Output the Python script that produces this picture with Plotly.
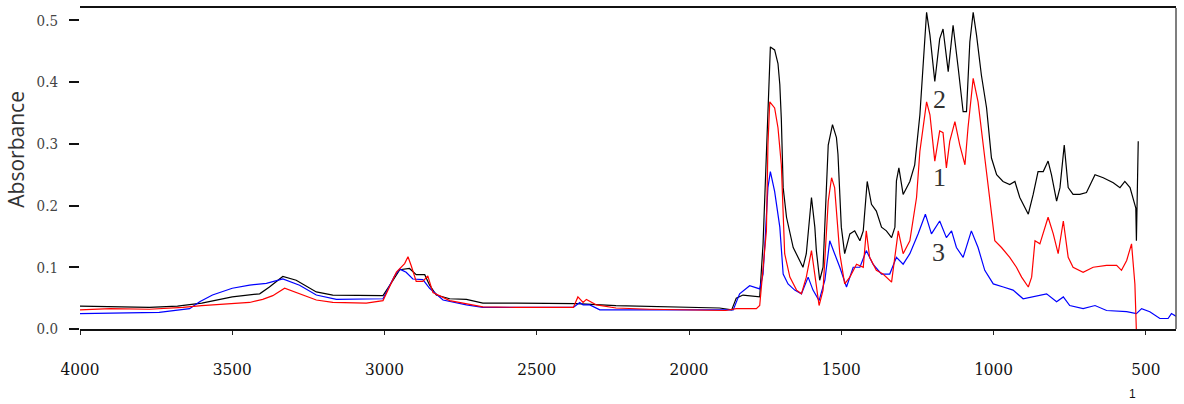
import plotly.graph_objects as go

# ---- data (wavenumber cm-1, absorbance) ----
black_wn = [4000, 3900, 3772, 3680, 3600, 3500, 3410, 3378, 3334, 3290, 3224, 3170, 3115, 3005,
            2972, 2950, 2918, 2896, 2868, 2852, 2830, 2786, 2731, 2677, 2567, 2458, 2370, 2240,
            2130, 2000, 1900, 1860, 1845, 1823, 1768, 1757, 1746, 1733, 1719, 1708, 1702, 1697,
            1691, 1680, 1658, 1626, 1615, 1598, 1587, 1582, 1571, 1560, 1543, 1529, 1516, 1511,
            1500, 1489, 1472, 1456, 1439, 1428, 1415, 1401, 1385, 1368, 1352, 1335, 1324, 1319,
            1311, 1297, 1275, 1259, 1242, 1231, 1220, 1209, 1193, 1177, 1166, 1149, 1133, 1116,
            1100, 1089, 1078, 1067, 1056, 1040, 1023, 1007, 990, 969, 947, 930, 914, 886, 870,
            854, 837, 821, 810, 793, 782, 768, 755, 739, 717, 695, 667, 640, 607, 585, 569, 552,
            541, 533, 531, 525]
black_abs = [0.037, 0.036, 0.035, 0.037, 0.042, 0.052, 0.057, 0.068, 0.085, 0.079, 0.060, 0.055, 0.055, 0.054,
             0.079, 0.096, 0.098, 0.088, 0.088, 0.071, 0.055, 0.049, 0.048, 0.042, 0.042, 0.041, 0.041, 0.038,
             0.037, 0.036, 0.034, 0.031, 0.050, 0.055, 0.052, 0.138, 0.300, 0.457, 0.452, 0.430, 0.396, 0.340,
             0.229, 0.181, 0.132, 0.100, 0.122, 0.213, 0.165, 0.127, 0.079, 0.100, 0.298, 0.331, 0.310, 0.283,
             0.165, 0.122, 0.154, 0.159, 0.143, 0.159, 0.239, 0.202, 0.191, 0.165, 0.159, 0.148, 0.165, 0.240,
             0.261, 0.218, 0.239, 0.266, 0.347, 0.438, 0.513, 0.476, 0.401, 0.470, 0.486, 0.417, 0.492, 0.422,
             0.352, 0.352, 0.465, 0.513, 0.476, 0.411, 0.358, 0.277, 0.250, 0.239, 0.234, 0.239, 0.213, 0.186, 0.218,
             0.255, 0.255, 0.272, 0.250, 0.207, 0.229, 0.298, 0.229, 0.218, 0.218, 0.221, 0.250, 0.245, 0.237, 0.229, 0.239, 0.229,
             0.207, 0.196, 0.143, 0.304]

red_wn = [4000, 3900, 3772, 3662, 3600, 3443, 3400, 3367, 3328, 3290, 3224, 3170, 3060, 3005,
          2961, 2934, 2923, 2912, 2896, 2874, 2858, 2841, 2786, 2677, 2567, 2380, 2365, 2348,
          2337, 2304, 2240, 2130, 2000, 1880, 1845, 1779, 1768, 1757, 1746, 1741, 1735, 1719,
          1708, 1697, 1686, 1669, 1647, 1631, 1615, 1598, 1587, 1573, 1560, 1543, 1532, 1522,
          1505, 1489, 1472, 1450, 1428, 1418, 1407, 1385, 1363, 1335, 1313, 1297, 1275, 1253,
          1242, 1231, 1220, 1209, 1193, 1177, 1166, 1155, 1144, 1127, 1111, 1094, 1084, 1067,
          1051, 1034, 1018, 1007, 996, 974, 947, 925, 908, 886, 875, 864, 848, 821, 804, 788,
          771, 755, 739, 706, 673, 629, 596, 580, 563, 547, 536, 531]
red_abs = [0.031, 0.033, 0.032, 0.035, 0.038, 0.043, 0.048, 0.054, 0.066, 0.059, 0.047, 0.043, 0.042, 0.046,
           0.092, 0.106, 0.117, 0.102, 0.077, 0.077, 0.086, 0.059, 0.046, 0.036, 0.035, 0.035, 0.052, 0.043,
           0.048, 0.039, 0.034, 0.032, 0.031, 0.030, 0.033, 0.033, 0.038, 0.100, 0.159, 0.298, 0.368, 0.358,
           0.326, 0.266, 0.122, 0.084, 0.063, 0.057, 0.084, 0.127, 0.084, 0.038, 0.063, 0.207, 0.245, 0.229,
           0.122, 0.073, 0.084, 0.105, 0.100, 0.159, 0.116, 0.095, 0.089, 0.076, 0.159, 0.122, 0.143, 0.213,
           0.288, 0.331, 0.368, 0.347, 0.272, 0.321, 0.318, 0.261, 0.304, 0.336, 0.298, 0.266, 0.326, 0.406,
           0.368, 0.298, 0.234, 0.196, 0.143, 0.132, 0.116, 0.100, 0.084, 0.068, 0.084, 0.143, 0.138, 0.181, 0.154, 0.122,
           0.175, 0.116, 0.100, 0.092, 0.100, 0.103, 0.103, 0.095, 0.111, 0.138, 0.073, -0.005]

blue_wn = [4000, 3850, 3740, 3640, 3607, 3565, 3500, 3443, 3388, 3334, 3279, 3224, 3158, 3005,
           2967, 2950, 2929, 2907, 2874, 2852, 2808, 2731, 2677, 2380, 2359, 2348, 2326, 2293,
           2130, 2000, 1880, 1855, 1834, 1801, 1768, 1757, 1751, 1741, 1733, 1719, 1702, 1691,
           1675, 1653, 1631, 1609, 1593, 1573, 1554, 1538, 1522, 1505, 1483, 1461, 1439, 1418,
           1396, 1368, 1341, 1319, 1297, 1275, 1248, 1224, 1204, 1177, 1155, 1138, 1122, 1100,
           1073, 1051, 1029, 1001, 968, 936, 903, 870, 826, 793, 771, 750, 706, 667, 629, 563,
           531, 514, 487, 454, 427, 416, 399]
blue_abs = [0.025, 0.026, 0.027, 0.033, 0.044, 0.055, 0.066, 0.071, 0.074, 0.081, 0.071, 0.055, 0.048, 0.049,
            0.086, 0.097, 0.092, 0.081, 0.080, 0.066, 0.047, 0.039, 0.035, 0.035, 0.043, 0.039, 0.039, 0.031,
            0.031, 0.030, 0.030, 0.031, 0.057, 0.070, 0.065, 0.089, 0.138, 0.229, 0.255, 0.223, 0.165, 0.089,
            0.073, 0.063, 0.057, 0.084, 0.063, 0.046, 0.079, 0.143, 0.122, 0.100, 0.068, 0.100, 0.100, 0.127,
            0.105, 0.089, 0.089, 0.116, 0.105, 0.122, 0.154, 0.186, 0.154, 0.175, 0.148, 0.159, 0.132, 0.116,
            0.159, 0.132, 0.095, 0.073, 0.068, 0.063, 0.049, 0.052, 0.057, 0.044, 0.052, 0.038, 0.033, 0.038, 0.030, 0.028,
            0.025, 0.033, 0.028, 0.017, 0.017, 0.025, 0.020]

x_ticks = [4000, 3500, 3000, 2500, 2000, 1500, 1000, 500]
y_ticks = [0.0, 0.1, 0.2, 0.3, 0.4, 0.5]
curve_labels = ["2", "1", "3"]
label_x = [1176, 1179, 1182]
label_y = [0.372, 0.245, 0.124]

fig = go.Figure()
fig.add_trace(go.Scatter(x=black_wn, y=black_abs, mode="lines",
                         line=dict(color="#000000", width=1.2), showlegend=False))
fig.add_trace(go.Scatter(x=blue_wn, y=blue_abs, mode="lines",
                         line=dict(color="#0000ff", width=1.2), showlegend=False))
fig.add_trace(go.Scatter(x=red_wn, y=red_abs, mode="lines",
                         line=dict(color="#ff0000", width=1.2), showlegend=False))

serif = "DejaVu Serif Condensed, Liberation Serif, serif"

fig.update_layout(
    width=1184, height=404,
    margin=dict(l=80, r=8, t=6, b=75),
    paper_bgcolor="white", plot_bgcolor="white",
    xaxis=dict(range=[4000, 401], tickvals=x_ticks, ticktext=[str(v) for v in x_ticks],
               showgrid=False, zeroline=False, showline=True, mirror=True,
               linecolor="#111", linewidth=1.5, ticks="outside", ticklen=4, tickcolor="#222",
               ticklabelstandoff=20,
               tickfont=dict(family=serif, size=17, color="#111")),
    yaxis=dict(range=[0, 0.52], tickvals=y_ticks, ticktext=[f"{v:.1f}" for v in y_ticks],
               showgrid=False, zeroline=False, showline=False,
               ticks="outside", ticklen=10, tickcolor="#111", tickwidth=1.5,
               ticklabelstandoff=8,
               tickfont=dict(family=serif, size=15, color="#444")),
    shapes=[dict(type="line", xref="paper", yref="paper", x0=1, x1=1, y0=0, y1=1,
                 line=dict(color="#555", width=1.5))],
)

fig.add_annotation(text="Absorbance", xref="paper", yref="paper", x=-0.058, y=0.56,
                   xanchor="center", yanchor="middle", textangle=-90, showarrow=False,
                   font=dict(family="Open Sans, sans-serif", size=21, color="#333"))

for t, lx, ly in zip(curve_labels, label_x, label_y):
    fig.add_annotation(text=t, x=lx, y=ly, xref="x", yref="y", showarrow=False,
                       xanchor="center", yanchor="middle",
                       font=dict(family="Liberation Serif, serif", size=26, color="#333"))

fig.add_annotation(text="1", x=543, y=-0.175, xref="x", yref="paper", showarrow=False,
                   xanchor="center", yanchor="top",
                   font=dict(family="Liberation Sans, sans-serif", size=12, color="#111"))

fig.write_html("out.html")
